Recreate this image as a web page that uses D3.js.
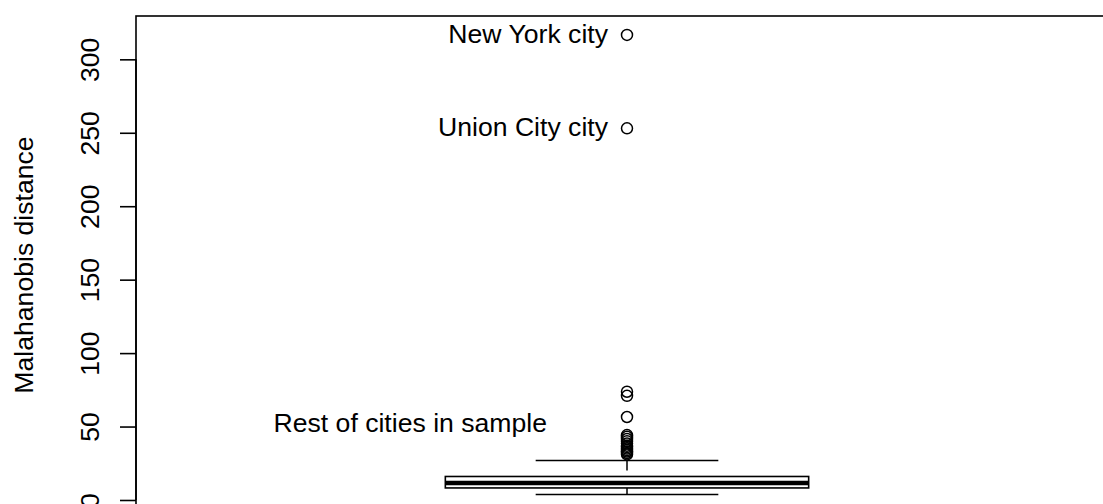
<!DOCTYPE html>
<html>
<head>
<meta charset="utf-8">
<script src="https://cdn.jsdelivr.net/npm/d3@7"></script>
<style>
  body { margin: 0; background: #fff; }
  svg { display: block; font-family: "Liberation Sans", Arial, sans-serif; }
</style>
</head>
<body>
<div id="chart"></div>
<script>
// box statistics: lower whisker, Q1, median, Q3, upper whisker
var boxStats = [3.7, 8.2, 11.6, 16.0, 26.9];
// outliers without labels
var outliers = [73.7, 70.9, 56.5, 44.2, 43.0, 41.5, 40.0, 38.5, 37.0, 36.0, 35.0, 34.0, 33.0, 32.0, 31.0];
// labelled outliers
var namedOutliers = ["New York city", "Union City city"];
var namedValues = [316.6, 253.0];
var yTicks = [0, 50, 100, 150, 200, 250, 300];
var yTitle = "Malahanobis distance";
var groupLabel = "Rest of cities in sample";

var W = 1103, H = 504;
var fs = 26.6;
var svg = d3.select("#chart").append("svg")
  .attr("width", W).attr("height", H);

// set the ranges (R style: one group at x = 1, range 0.5 .. 1.5)
var x = d3.scaleLinear().domain([0.5, 1.5]).range([136, 1118]);
var y = d3.scaleLinear().domain([-9.2, 329.5]).range([513.5, 16]);

var boxHalf = 0.185, stapleHalf = 0.093;
var cx = x(1);

// plot frame
svg.append("rect")
  .attr("x", x(0.5)).attr("y", y(329.5))
  .attr("width", x(1.5) - x(0.5)).attr("height", y(-9.2) - y(329.5))
  .attr("fill", "none").attr("stroke", "#000").attr("stroke-width", 1.6);

// whiskers, dashed, drawn from the ends toward the box
svg.append("line")
  .attr("x1", cx).attr("x2", cx)
  .attr("y1", y(boxStats[4])).attr("y2", y(boxStats[3]))
  .attr("stroke", "#000").attr("stroke-width", 1.5).attr("stroke-dasharray", "10,6");
svg.append("line")
  .attr("x1", cx).attr("x2", cx)
  .attr("y1", y(boxStats[0])).attr("y2", y(boxStats[1]))
  .attr("stroke", "#000").attr("stroke-width", 1.5).attr("stroke-dasharray", "10,6");

// staples
[boxStats[0], boxStats[4]].forEach(function(v) {
  svg.append("line")
    .attr("x1", x(1 - stapleHalf)).attr("x2", x(1 + stapleHalf))
    .attr("y1", y(v)).attr("y2", y(v))
    .attr("stroke", "#000").attr("stroke-width", 1.6);
});

// the box
svg.append("rect")
  .attr("x", x(1 - boxHalf)).attr("y", y(boxStats[3]))
  .attr("width", x(1 + boxHalf) - x(1 - boxHalf))
  .attr("height", y(boxStats[1]) - y(boxStats[3]))
  .attr("fill", "none").attr("stroke", "#000").attr("stroke-width", 1.6);

// median
svg.append("line")
  .attr("x1", x(1 - boxHalf)).attr("x2", x(1 + boxHalf))
  .attr("y1", y(boxStats[2])).attr("y2", y(boxStats[2]))
  .attr("stroke", "#000").attr("stroke-width", 4.5);

// outlier points
svg.selectAll("circle.out")
  .data(outliers.concat(namedValues))
  .enter().append("circle")
  .attr("class", "out")
  .attr("cx", cx).attr("cy", function(d) { return y(d); })
  .attr("r", 5.5)
  .attr("fill", "none").attr("stroke", "#000").attr("stroke-width", 1.5);

// labels for named outliers
svg.selectAll("text.name")
  .data(namedOutliers)
  .enter().append("text")
  .attr("class", "name")
  .attr("x", cx - 19)
  .attr("y", function(d, i) { return y(namedValues[i]); })
  .attr("dy", "0.29em")
  .attr("text-anchor", "end")
  .attr("font-size", fs)
  .text(function(d) { return d; });

svg.append("text")
  .attr("x", x(0.9185)).attr("y", y(51.5))
  .attr("dy", "0.3em")
  .attr("text-anchor", "end")
  .attr("font-size", fs)
  .text(groupLabel);

// Add the Y Axis
var gy = svg.append("g")
  .attr("transform", "translate(" + x(0.5) + ",0)")
  .call(d3.axisLeft(y).tickValues(yTicks).tickSize(16).tickFormat(d3.format("d")));
gy.select(".domain")
  .attr("d", "M0," + y(0) + "V" + y(300))
  .attr("stroke-width", 1.6);
gy.selectAll(".tick line").attr("stroke-width", 1.6);
gy.selectAll(".tick text")
  .attr("x", null).attr("dy", null).attr("y", 0)
  .attr("transform", "translate(-37,0) rotate(-90)")
  .attr("text-anchor", "middle")
  .attr("font-size", fs)
  .attr("font-family", "'Liberation Sans', Arial, sans-serif")
  .attr("fill", "#000");

// ylabel
svg.append("text")
  .attr("transform", "translate(33," + 265 + ") rotate(-90)")
  .attr("text-anchor", "middle")
  .attr("font-size", fs)
  .text(yTitle);
</script>
</body>
</html>
